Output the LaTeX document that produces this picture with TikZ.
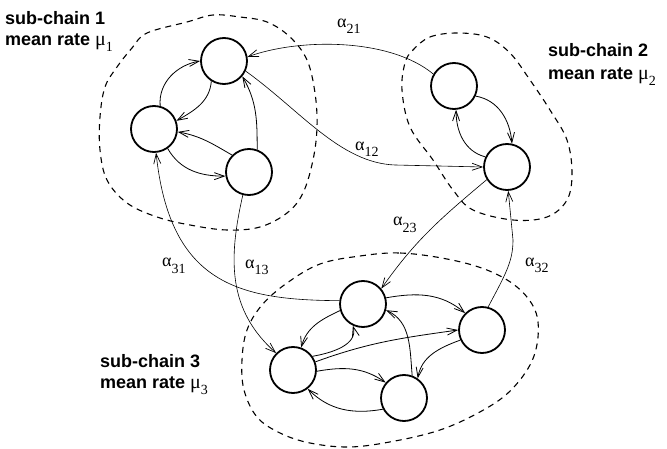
\documentclass[tikz,border=0pt]{standalone}
\usepackage{fontspec}
\setmainfont{Liberation Serif}
\newfontfamily\lsans{Liberation Sans}
\usetikzlibrary{arrows.meta}
\newcommand\gsym[2]{#1\raisebox{-6pt}{\fontsize{14}{14}\selectfont #2}}
\begin{document}
\begin{tikzpicture}[x=1pt,y=1pt,
  st/.style={circle, draw, line width=1.8pt, minimum size=46pt, inner sep=0pt},
  tr/.style={line width=0.8pt, -{Straight Barb[length=10pt,width=7pt,line width=0.8pt]}},
  xt/.style={line width=0.6pt, -{Straight Barb[length=10pt,width=7pt,line width=0.7pt]}},
  bnd/.style={line width=1.1pt, dash pattern=on 6pt off 5pt},
  hd/.style={font=\lsans\bfseries\fontsize{18}{22}\selectfont, anchor=base west, inner sep=0pt},
  rt/.style={font=\fontsize{18}{18}\selectfont, anchor=base west, inner sep=0pt}]
\useasboundingbox (0,0) rectangle (667,-449);
% boundaries
\draw[bnd] plot[smooth cycle, tension=0.6] coordinates {(147,-33) (187,-22) (213,-15) (240,-17) (267,-22) (290,-37) (307,-60) (315,-93) (317,-127) (313,-160) (303,-193) (287,-213) (260,-227) (227,-230) (190,-225) (157,-217) (127,-203) (107,-180) (100,-150) (100,-117) (105,-87) (117,-67) (132,-48)};
\draw[bnd] plot[smooth cycle, tension=0.6] coordinates {(413,-50) (430,-37) (457,-33) (487,-37) (510,-53) (530,-80) (550,-110) (567,-140) (572,-173) (567,-200) (547,-217) (513,-220) (473,-210) (453,-190) (433,-160) (410,-127) (402,-90) (405,-63)};
\draw[bnd] plot[smooth cycle, tension=0.6] coordinates {(360,-256) (400,-253) (447,-259) (487,-270) (517,-287) (535,-310) (538,-337) (530,-365) (508,-393) (478,-413) (440,-430) (395,-441) (350,-447) (310,-443) (280,-433) (257,-417) (244,-390) (242,-360) (247,-330) (262,-305) (287,-283) (320,-264)};
% states
\node[st] (A) at (224,-61) {};
\node[st] (B) at (154,-129) {};
\node[st] (C) at (249,-172) {};
\node[st] (D) at (454,-86) {};
\node[st] (E) at (507,-167) {};
\node[st] (F) at (363,-304) {};
\node[st] (G) at (482,-330) {};
\node[st] (H) at (293,-370) {};
\node[st] (I) at (404,-398) {};
% sub-chain 1
\draw[tr] (B.75) to[out=95,in=190] (A.180);
\draw[tr] (A.238) to[out=265,in=30] (B.20);
\draw[tr] (C.135) to[out=150,in=-10] (B.-7);
\draw[tr] (B.-55) to[out=-60,in=180] (C.190);
\draw[tr] (C.70) to[out=90,in=-60] (A.-40);
% sub-chain 2
\draw[tr] (D.-25) to[out=-10,in=95] (E.78);
\draw[tr] (E.155) to[out=165,in=-90] (D.-85);
% sub-chain 3
\draw[tr] (F.15) to[out=10,in=140] (G.135);
\draw[tr] (F.196) to[out=205,in=75] (H.70);
\draw[tr] (H.35) to[out=10,in=-75] (F.-115);
\draw[tr] (H.20) to[out=20,in=188] (G.180);
\draw[tr] (H.-3) to[out=10,in=145] (I.140);
\draw[tr] (I.208) to[out=190,in=-45] (H.-52);
\draw[tr] (G.205) to[out=200,in=80] (I.55);
\draw[tr] (I.70) to[out=95,in=-25] (F.-15);
% between sub-chains
\draw[xt] (D.150) .. controls (390,-38) and (300,-38) .. (A.10);
\draw[xt] (A.-25) .. controls (300,-110) and (340,-163) .. (395,-165) -- (E.180);
\draw[xt] (E.212) to[out=220,in=55] (F.40);
\draw[xt] (G.75) .. controls (505,-275) and (513,-262) .. (513,-240) -- (E.-87);
\draw[xt] (F.172) .. controls (240,-300) and (170,-285) .. (B.-85);
\draw[xt] (C.-105) .. controls (228,-260) and (228,-310) .. (H.135);
% labels
\node[hd] (t1) at (5,-25) {sub-chain 1};
\node[hd] (t1b) at (5,-46) {mean rate \normalfont\fontsize{20}{20}\selectfont\gsym{μ}{1}};
\node[hd] (t2) at (548,-57) {sub-chain 2};
\node[hd] (t2b) at (548,-80) {mean rate \normalfont\fontsize{20}{20}\selectfont\gsym{μ}{2}};
\node[hd] (t3) at (100,-367) {sub-chain 3};
\node[hd] (t3b) at (100,-388) {mean rate \normalfont\fontsize{20}{20}\selectfont\gsym{μ}{3}};
\node[rt] (l21) at (337,-28) {\gsym{α}{21}};
\node[rt] (l12) at (355,-151) {\gsym{α}{12}};
\node[rt] (l23) at (393,-226) {\gsym{α}{23}};
\node[rt] (l31) at (162,-267) {\gsym{α}{31}};
\node[rt] (l13) at (245,-269) {\gsym{α}{13}};
\node[rt] (l32) at (525,-266) {\gsym{α}{32}};
\end{tikzpicture}
\end{document}
